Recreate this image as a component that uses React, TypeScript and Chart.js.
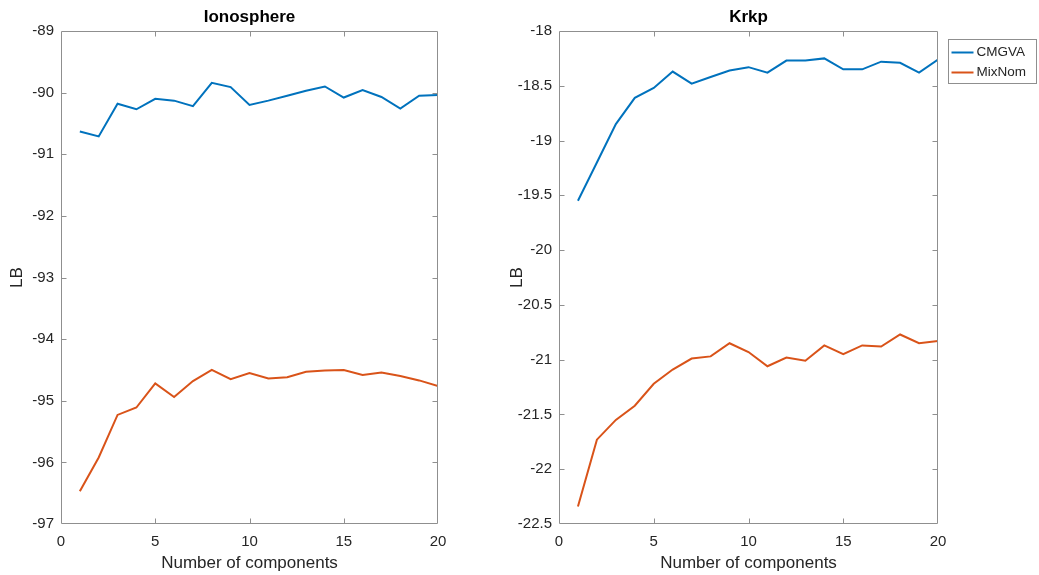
import { useEffect, useRef } from "react";
import { Chart, registerables } from "chart.js";

Chart.register(...registerables);

// Number of mixture components on the x axis
const components = [1, 2, 3, 4, 5, 6, 7, 8, 9, 10, 11, 12, 13, 14, 15, 16, 17, 18, 19, 20];

// Lower bound (LB) per number of components
const ionosphereCMGVA = [
  -90.63, -90.71, -90.18, -90.27, -90.1, -90.13, -90.22, -89.84, -89.91, -90.2,
  -90.13, -90.05, -89.97, -89.9, -90.08, -89.96, -90.07, -90.26, -90.05, -90.04,
];
const ionosphereMixNom = [
  -96.47, -95.92, -95.23, -95.11, -94.72, -94.94, -94.68, -94.5, -94.65, -94.55,
  -94.64, -94.62, -94.53, -94.51, -94.5, -94.58, -94.54, -94.6, -94.67, -94.76,
];
const krkpCMGVA = [
  -19.55, -19.2, -18.85, -18.61, -18.52, -18.37, -18.48, -18.42, -18.36, -18.33,
  -18.38, -18.27, -18.27, -18.25, -18.35, -18.35, -18.28, -18.29, -18.38, -18.26,
];
const krkpMixNom = [
  -22.34, -21.73, -21.55, -21.42, -21.22, -21.09, -20.99, -20.97, -20.85, -20.93,
  -21.06, -20.98, -21.01, -20.87, -20.95, -20.87, -20.88, -20.77, -20.85, -20.83,
];

const seriesNames = ["CMGVA", "MixNom"];
const seriesColors = ["#0072BD", "#D95319"];

const FONT = "'Liberation Sans', Arial, Helvetica, sans-serif";
const TEXT = "#262626";
const FRAME = "#8f8f8f";

// Box around the plot area with inward tick marks on all four sides
const framePlugin = {
  id: "matlabFrame",
  afterDatasetsDraw(chart: any) {
    const { ctx, chartArea: a, scales } = chart;
    const l = Math.round(a.left) + 0.5;
    const r = Math.round(a.right) - 0.5;
    const t = Math.round(a.top) + 0.5;
    const b = Math.round(a.bottom) - 0.5;
    const tl = 5;
    ctx.save();
    ctx.strokeStyle = FRAME;
    ctx.lineWidth = 1;
    ctx.beginPath();
    ctx.rect(l, t, r - l, b - t);
    scales.x.ticks.forEach((tk: any) => {
      const px = Math.round(scales.x.getPixelForValue(tk.value)) + 0.5;
      if (px <= l + 1 || px >= r - 1) return;
      ctx.moveTo(px, b);
      ctx.lineTo(px, b - tl);
      ctx.moveTo(px, t);
      ctx.lineTo(px, t + tl);
    });
    scales.y.ticks.forEach((tk: any) => {
      const py = Math.round(scales.y.getPixelForValue(tk.value)) + 0.5;
      if (py <= t + 1 || py >= b - 1) return;
      ctx.moveTo(l, py);
      ctx.lineTo(l + tl, py);
      ctx.moveTo(r, py);
      ctx.lineTo(r - tl, py);
    });
    ctx.stroke();
    ctx.restore();
  },
};

// Boxed legend placed just outside the top-right corner of the plot area
const boxLegendPlugin = {
  id: "boxLegend",
  afterDraw(chart: any, _args: any, opts: any) {
    if (!opts || !opts.show) return;
    const { ctx, chartArea: a } = chart;
    const x0 = Math.round(a.right) + 10 + 0.5;
    const y0 = Math.round(a.top) + 8 + 0.5;
    const w = 88;
    const h = 44;
    ctx.save();
    ctx.fillStyle = "#ffffff";
    ctx.fillRect(x0, y0, w, h);
    ctx.strokeStyle = FRAME;
    ctx.lineWidth = 1;
    ctx.strokeRect(x0, y0, w, h);
    ctx.font = `13.5px ${FONT}`;
    ctx.textBaseline = "middle";
    ctx.textAlign = "left";
    chart.data.datasets.forEach((ds: any, i: number) => {
      const cy = y0 + 13 + i * 20;
      ctx.strokeStyle = ds.borderColor;
      ctx.lineWidth = 2;
      ctx.beginPath();
      ctx.moveTo(x0 + 3, cy);
      ctx.lineTo(x0 + 25, cy);
      ctx.stroke();
      ctx.fillStyle = TEXT;
      ctx.fillText(ds.label, x0 + 28, cy);
    });
    ctx.restore();
  },
};

type PanelProps = {
  title: string;
  first: number[];
  second: number[];
  yMin: number;
  yMax: number;
  yStep: number;
  left: number;
  width: number;
  axisWidth: number;
  rightPad: number;
  legend: boolean;
};

function Panel(props: PanelProps) {
  const ref = useRef<HTMLCanvasElement | null>(null);

  useEffect(() => {
    if (!ref.current) return;
    const toPoints = (vals: number[]) => components.map((c, i) => ({ x: c, y: vals[i] }));
    const chart = new Chart(ref.current, {
      type: "line",
      data: {
        datasets: [props.first, props.second].map((vals, i) => ({
          label: seriesNames[i],
          data: toPoints(vals),
          borderColor: seriesColors[i],
          backgroundColor: seriesColors[i],
          borderWidth: 2,
          pointRadius: 0,
          tension: 0,
          fill: false,
        })),
      },
      options: {
        responsive: false,
        animation: false,
        devicePixelRatio: 1,
        layout: { padding: { left: 0, top: 0, bottom: 0, right: props.rightPad } },
        plugins: {
          legend: { display: false },
          tooltip: { enabled: false },
          title: {
            display: true,
            text: props.title,
            fullSize: false,
            color: "#000000",
            font: { family: FONT, size: 17, weight: "bold" },
            padding: { top: 7, bottom: 3.6 },
          },
          boxLegend: { show: props.legend },
        } as any,
        scales: {
          x: {
            type: "linear",
            min: 0,
            max: 20,
            grid: { display: false, drawTicks: false },
            border: { display: false },
            ticks: {
              stepSize: 5,
              autoSkip: false,
              maxRotation: 0,
              padding: 9,
              color: TEXT,
              font: { family: FONT, size: 15 },
            },
            title: {
              display: true,
              text: "Number of components",
              color: TEXT,
              font: { family: FONT, size: 17 },
              padding: { top: 0, bottom: 1 },
            },
            afterFit: (scale: any) => {
              scale.height = 51;
            },
          },
          y: {
            type: "linear",
            min: props.yMin,
            max: props.yMax,
            grid: { display: false, drawTicks: false },
            border: { display: false },
            ticks: {
              stepSize: props.yStep,
              autoSkip: false,
              padding: 7,
              color: TEXT,
              font: { family: FONT, size: 15 },
              callback: (v: any) => String(Math.round(Number(v) * 10) / 10),
            },
            title: {
              display: true,
              text: "LB",
              color: TEXT,
              font: { family: FONT, size: 17 },
              padding: { top: 7, bottom: 0 },
            },
            afterFit: (scale: any) => {
              scale.width = props.axisWidth;
            },
          },
        },
      },
      plugins: [framePlugin, boxLegendPlugin],
    });
    return () => chart.destroy();
  }, []);

  return (
    <canvas
      ref={ref}
      width={props.width}
      height={575}
      style={{ position: "absolute", left: props.left, top: 0, width: props.width, height: 575, display: "block" }}
    />
  );
}

export default function App() {
  return (
    <div style={{ position: "fixed", left: 0, top: 0, width: 1039, height: 575, background: "#ffffff", overflow: "hidden" }}>
      <Panel
        title="Ionosphere"
        first={ionosphereCMGVA}
        second={ionosphereMixNom}
        yMin={-97}
        yMax={-89}
        yStep={1}
        left={0}
        width={500}
        axisWidth={61}
        rightPad={62}
        legend={false}
      />
      <Panel
        title="Krkp"
        first={krkpCMGVA}
        second={krkpMixNom}
        yMin={-22.5}
        yMax={-18}
        yStep={0.5}
        left={500}
        width={539}
        axisWidth={59}
        rightPad={101}
        legend={true}
      />
    </div>
  );
}
